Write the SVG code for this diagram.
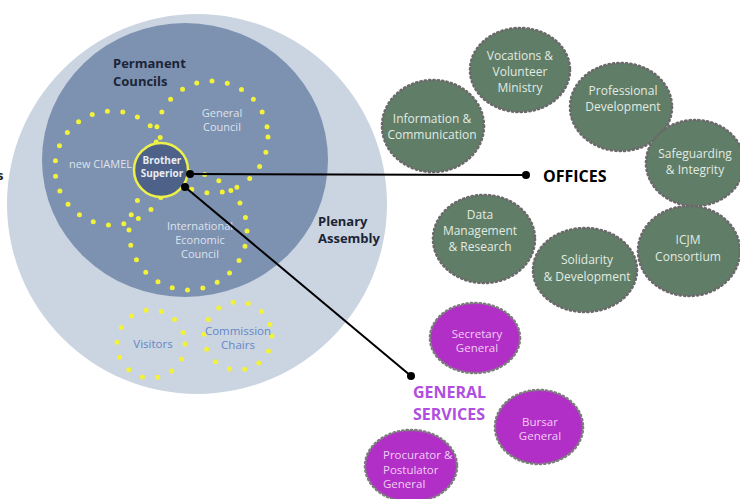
<svg xmlns="http://www.w3.org/2000/svg" width="740" height="499" viewBox="0 0 740 499">
<style>
text{font-family:"Open Sans","Liberation Sans",Arial,sans-serif}
.dots{fill:none;stroke:#f2f23a;stroke-width:5;stroke-linecap:round;stroke-dasharray:0 15.5}
.pale{fill:#dde3ec;font-size:11px;text-anchor:middle}
.office ellipse{fill:#5f7d67;stroke:#6a6a6a;stroke-width:2.6;stroke-dasharray:1.2 3.2;stroke-linecap:round}
.office text{fill:#e2ebe2;font-size:12px;text-anchor:middle}
.svc ellipse{fill:#b22fc7;stroke:#7c7c7c;stroke-width:2.6;stroke-dasharray:1.2 3.2;stroke-linecap:round}
.svc text{fill:#f1cdf6;font-size:11.5px;text-anchor:middle}
.lbl{font-weight:bold;fill:#1b2536;font-size:13px}
.conn line{stroke:#000;stroke-width:2}
.conn circle{fill:#000}
</style>
<rect width="740" height="499" fill="#ffffff"/>
<text x="-3" y="180" style="font-size:13px;font-weight:bold;fill:#222">s</text>
<g id="plenary-assembly">
<circle cx="197" cy="204" r="190" fill="#cbd4e1"/>
<text class="lbl" x="318" y="226">Plenary</text>
<text class="lbl" x="318" y="243">Assembly</text>
</g>
<g id="permanent-councils">
<ellipse cx="185" cy="160" rx="143" ry="137" fill="#7d91b1"/>
<text class="lbl" x="113" y="68">Permanent</text>
<text class="lbl" x="113" y="86">Councils</text>
</g>
<g id="general-council">
<circle class="dots" cx="212" cy="137" r="56"/>
<text class="pale" x="222" y="117">General</text>
<text class="pale" x="222" y="131">Council</text>
</g>
<g id="new-ciamel">
<circle class="dots" cx="112" cy="168" r="57"/>
<text class="pale" x="69" y="168" style="text-anchor:start">new CIAMEL</text>
</g>
<g id="international-economic-council">
<circle class="dots" cx="188" cy="231" r="59"/>
<text class="pale" x="200" y="230">International</text>
<text class="pale" x="200" y="244">Economic</text>
<text class="pale" x="200" y="258">Council</text>
</g>
<g id="visitors">
<circle class="dots" cx="151" cy="344" r="34"/>
<text x="153" y="348" style="fill:#6487c4;font-size:11.5px;text-anchor:middle">Visitors</text>
</g>
<g id="commission-chairs">
<circle class="dots" cx="238" cy="336" r="34"/>
<text x="238" y="335" style="fill:#6487c4;font-size:11.5px;text-anchor:middle">Commission</text>
<text x="238" y="349" style="fill:#6487c4;font-size:11.5px;text-anchor:middle">Chairs</text>
</g>
<g id="brother-superior">
<circle cx="161" cy="170" r="27" fill="#4d6189" stroke="#eef04a" stroke-width="2.5"/>
<text x="162" y="164" style="fill:#e8ecf3;font-size:10px;font-weight:bold;text-anchor:middle">Brother</text>
<text x="162" y="177" style="fill:#e8ecf3;font-size:10px;font-weight:bold;text-anchor:middle">Superior</text>
</g>
<g id="office-vocations" class="office">
<ellipse cx="520" cy="70" rx="50" ry="42"/>
<text x="520" y="60">Vocations &amp;</text>
<text x="520" y="76">Volunteer</text>
<text x="520" y="92">Ministry</text>
</g>
<g id="office-professional" class="office">
<ellipse cx="621" cy="107" rx="51" ry="44"/>
<text x="623" y="95">Professional</text>
<text x="623" y="111">Development</text>
</g>
<g id="office-information" class="office">
<ellipse cx="433" cy="126" rx="51" ry="46"/>
<text x="432" y="123">Information &amp;</text>
<text x="432" y="139">Communication</text>
</g>
<g id="office-safeguarding" class="office">
<ellipse cx="695" cy="163" rx="49" ry="43"/>
<text x="695" y="158">Safeguarding</text>
<text x="695" y="174">&amp; Integrity</text>
</g>
<g id="office-data" class="office">
<ellipse cx="484" cy="239" rx="51" ry="44"/>
<text x="480" y="219">Data</text>
<text x="480" y="235">Management</text>
<text x="480" y="251">&amp; Research</text>
</g>
<g id="office-solidarity" class="office">
<ellipse cx="585" cy="270" rx="52" ry="42"/>
<text x="587" y="264">Solidarity</text>
<text x="587" y="281">&amp; Development</text>
</g>
<g id="office-icjm" class="office">
<ellipse cx="689" cy="251" rx="51" ry="45"/>
<text x="688" y="244">ICJM</text>
<text x="688" y="261">Consortium</text>
</g>
<g id="offices-label">
<text x="543" y="182" style="font-weight:bold;font-size:16px;fill:#000">OFFICES</text>
</g>
<g id="svc-secretary" class="svc">
<ellipse cx="475" cy="338" rx="45" ry="35"/>
<text x="477" y="338">Secretary</text>
<text x="477" y="352">General</text>
</g>
<g id="svc-bursar" class="svc">
<ellipse cx="539" cy="427" rx="44" ry="37"/>
<text x="540" y="426">Bursar</text>
<text x="540" y="440">General</text>
</g>
<g id="svc-procurator" class="svc">
<ellipse cx="411" cy="466" rx="46" ry="36"/>
<text x="383" y="459" style="text-anchor:start">Procurator &amp;</text>
<text x="383" y="474" style="text-anchor:start">Postulator</text>
<text x="383" y="488" style="text-anchor:start">General</text>
</g>
<g id="general-services-label">
<text x="413" y="398" style="font-weight:bold;font-size:16px;fill:#b04ee0">GENERAL</text>
<text x="413" y="420" style="font-weight:bold;font-size:16px;fill:#b04ee0">SERVICES</text>
</g>
<g id="connectors" class="conn">
<line x1="190" y1="174" x2="526" y2="175"/>
<circle cx="190" cy="174" r="4"/>
<circle cx="526" cy="175" r="4"/>
<line x1="185" y1="187" x2="411" y2="376"/>
<circle cx="185" cy="187" r="4"/>
<circle cx="411" cy="376" r="4"/>
</g>
</svg>
